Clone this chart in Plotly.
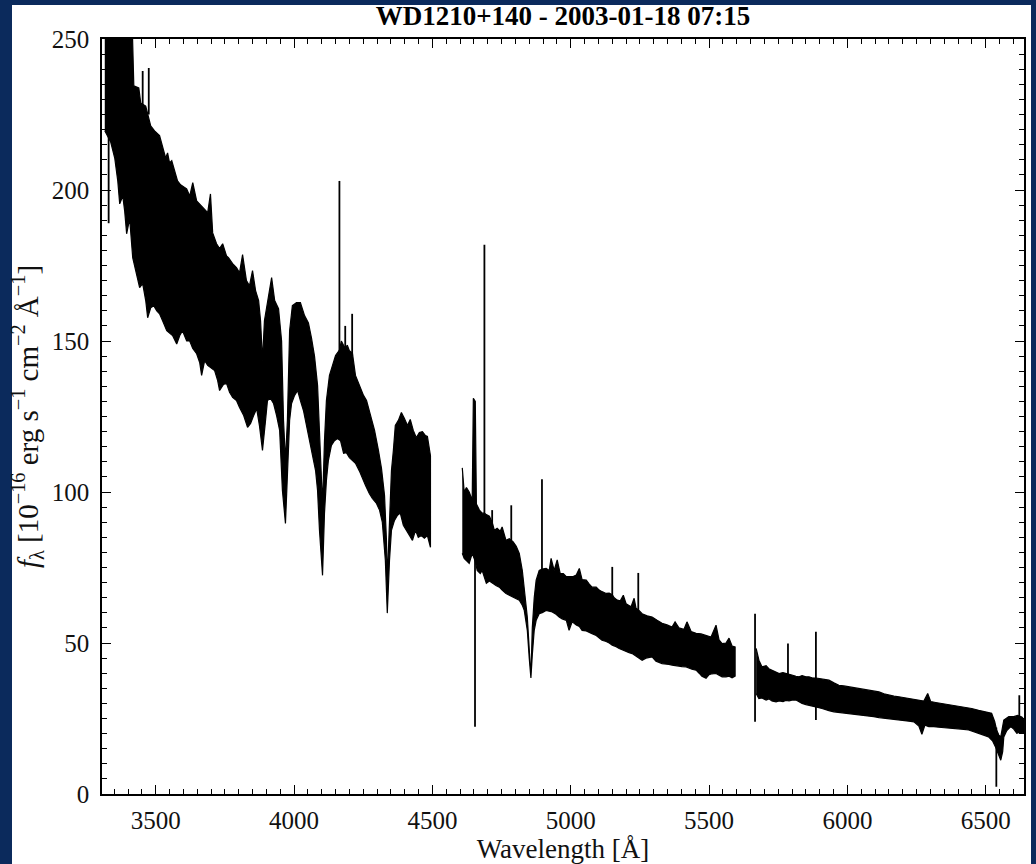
import plotly.graph_objects as go

# ---- Spectrum of WD1210+140, drawn as flux envelopes (upper / lower edge of the noisy trace)
# Blue arm, 3300-4500 A
blue_wl_hi = [3316, 3413, 3421, 3439, 3446, 3464, 3482, 3496, 3514, 3529,
              3536, 3543, 3550, 3558, 3569, 3579, 3590, 3601, 3612, 3623,
              3634, 3648, 3659, 3673, 3688, 3698, 3706, 3720, 3731, 3742,
              3756, 3763, 3778, 3792, 3803, 3814, 3828, 3839, 3850, 3861,
              3872, 3879, 3886, 3893, 3904, 3919, 3930, 3944, 3955, 3962,
              3969, 3976, 3984, 3994, 4009, 4023, 4038, 4052, 4063, 4074,
              4085, 4092, 4103, 4110, 4117, 4128, 4139, 4150, 4164, 4171,
              4182, 4193, 4200, 4211, 4222, 4236, 4251, 4262, 4276, 4291,
              4305, 4316, 4327, 4334, 4337, 4345, 4352, 4359, 4366, 4377,
              4388, 4399, 4410, 4420, 4431, 4442, 4453, 4464, 4475, 4482,
              4493]
blue_flux_hi = [280, 262, 234.5, 233.8, 228.8, 227.8, 221.2, 219.6, 218, 213,
                210.6, 212.3, 209, 209.7, 205.7, 203, 201.7, 201, 200.4, 198,
                202.4, 196.4, 195.4, 194, 192.5, 198.7, 185.8, 182.2, 180.6, 182.2,
                178.2, 177.6, 175.6, 174.3, 172.6, 178.6, 170, 168.3, 173.3, 166.7,
                163.4, 156.7, 143.5, 156.7, 163.4, 171, 163.4, 160.7, 150, 123.7,
                110.4, 123.7, 153.4, 161.7, 162.7, 162.7, 158.4, 156, 151, 145,
                135.3, 120.4, 95.6, 117, 130.3, 138.6, 141.9, 145.2, 147, 150,
                148, 148.5, 146.8, 146, 138.6, 135.3, 132, 130.3, 125.3, 120.4,
                113.8, 107.8, 98.9, 84, 70.8, 90.6, 107, 113.8, 122, 123.7,
                126.3, 124.3, 122, 124, 120.4, 118, 119.7, 120, 118.7, 118.4,
                112]
blue_wl_lo = [3316, 3337, 3352, 3363, 3370, 3381, 3388, 3395, 3406, 3417,
              3431, 3442, 3453, 3464, 3471, 3482, 3493, 3504, 3514, 3525,
              3540, 3550, 3561, 3576, 3587, 3597, 3612, 3623, 3634, 3648,
              3659, 3666, 3677, 3688, 3702, 3713, 3724, 3731, 3745, 3756,
              3767, 3778, 3792, 3803, 3818, 3832, 3843, 3854, 3865, 3875,
              3886, 3897, 3904, 3915, 3926, 3937, 3948, 3958, 3969, 3976,
              3984, 3991, 4002, 4013, 4023, 4034, 4045, 4056, 4067, 4078,
              4085, 4092, 4103, 4110, 4117, 4124, 4135, 4146, 4157, 4168,
              4179, 4189, 4200, 4211, 4222, 4236, 4247, 4258, 4272, 4283,
              4298, 4309, 4319, 4330, 4337, 4345, 4352, 4363, 4374, 4384,
              4395, 4406, 4417, 4428, 4439, 4449, 4460, 4471, 4482, 4493]
blue_flux_lo = [219.6, 216, 210.6, 203, 195.4, 198, 193, 185.5, 190.5, 177.6,
                172.3, 167.7, 169, 163.4, 157.7, 161, 161.7, 160, 159, 156.7,
                153.4, 152.8, 151.8, 149, 151.8, 153.4, 150, 150, 147.5, 145.8,
                142.9, 138.6, 143.5, 141.9, 140.9, 140.2, 136.9, 133.6, 135.6, 136,
                133, 131.3, 130.3, 128, 125.3, 121.4, 122.7, 125.3, 127.6, 122,
                113.8, 123.7, 130.3, 131, 129.3, 125.3, 120.4, 100.5, 89.6, 107,
                123.7, 129.3, 132, 133.6, 130.3, 127, 122, 117, 112, 107,
                100.5, 87.3, 72.4, 93, 103.8, 110.4, 115.4, 117, 117.7, 117,
                112.8, 113, 111.4, 110.4, 109.5, 107, 104.8, 102.2, 99.5, 97.9,
                96.2, 94, 90, 77.4, 59.9, 77.4, 87.3, 90.6, 92.3, 93,
                89, 87.3, 85.6, 84, 87.3, 85, 85.6, 84.7, 85.6, 81.7]

# Green arm, 4600-5600 A
green_wl_hi = [4608, 4615, 4623, 4633, 4641, 4644, 4648, 4655, 4659, 4670,
               4680, 4688, 4695, 4706, 4716, 4724, 4734, 4745, 4752, 4766,
               4778, 4785, 4792, 4803, 4814, 4825, 4832, 4843, 4850, 4856,
               4861, 4868, 4875, 4886, 4897, 4911, 4922, 4929, 4940, 4951,
               4962, 4973, 4984, 4994, 5009, 5020, 5031, 5041, 5056, 5067,
               5077, 5092, 5103, 5113, 5128, 5139, 5150, 5157, 5168, 5179,
               5190, 5200, 5211, 5218, 5229, 5236, 5244, 5251, 5258, 5276,
               5294, 5312, 5330, 5348, 5366, 5377, 5391, 5409, 5420, 5435,
               5453, 5471, 5489, 5507, 5525, 5536, 5547, 5561, 5572, 5583,
               5594]
green_flux_hi = [108, 100, 101.5, 100, 98, 98, 131, 130, 96, 94,
                 93, 93, 92.5, 92, 90, 87.3, 88, 87, 88.4, 84,
                 84.5, 84, 83.5, 82, 79.7, 74, 68.5, 58.6, 48, 38.4,
                 55, 65, 70.8, 74, 74.5, 74.7, 74, 78, 74, 77.5,
                 73, 73, 72, 71.9, 72, 72.5, 74.7, 71, 70.8, 69.5,
                 68.5, 68.5, 67.5, 67, 66.4, 66.5, 66, 65, 64.2, 64,
                 65.8, 63, 62.5, 62, 64.8, 61.5, 61, 60.5, 59.7, 59,
                 58.6, 57.5, 56.5, 56, 55.3, 57, 55, 54.5, 57, 53.8,
                 53.2, 53, 52.5, 52, 55.9, 51, 49.8, 50, 51.6, 49,
                 48.7]
green_wl_lo = [4608, 4615, 4623, 4633, 4644, 4655, 4662, 4673, 4680, 4695,
               4706, 4716, 4731, 4742, 4752, 4766, 4778, 4788, 4803, 4814,
               4825, 4832, 4843, 4850, 4856, 4861, 4868, 4875, 4886, 4897,
               4911, 4922, 4933, 4947, 4958, 4969, 4984, 4994, 5005, 5020,
               5031, 5041, 5056, 5067, 5077, 5092, 5103, 5113, 5128, 5139,
               5150, 5164, 5175, 5186, 5200, 5211, 5222, 5236, 5247, 5258,
               5272, 5283, 5294, 5308, 5319, 5330, 5344, 5355, 5366, 5381,
               5391, 5402, 5417, 5428, 5438, 5453, 5464, 5474, 5489, 5500,
               5510, 5525, 5536, 5547, 5561, 5572, 5583, 5594]
green_flux_lo = [79.7, 78, 77.4, 76.4, 79.7, 77, 74, 73, 74, 69.8,
                 70.5, 69.8, 69, 68.5, 67.5, 66.4, 66, 65.3, 64.7, 64.2,
                 62.5, 60.8, 54.2, 45, 38.4, 46, 54.2, 57.5, 59.7, 60,
                 60.8, 60.5, 60.3, 59.5, 58.6, 58, 57.5, 54.2, 57, 56,
                 55.5, 54.2, 54, 53.5, 53.1, 52.5, 51.8, 50.9, 50.5, 50,
                 49.3, 48.8, 48.2, 47.6, 47.2, 46.8, 46.5, 45.8, 45, 44.3,
                 45, 45.2, 45.4, 44, 43.6, 43.2, 43, 42.9, 42.7, 42.5,
                 42.3, 42.2, 42.1, 41.6, 41.3, 41, 40, 39, 38.3, 39.5,
                 39.8, 39.9, 39.3, 38.8, 38.8, 39, 38.5, 39]

# Red arm, 5670-6640 A
red_wl_hi = [5670, 5680, 5691, 5706, 5716, 5727, 5742, 5753, 5767, 5777,
             5789, 5799, 5814, 5825, 5836, 5850, 5861, 5872, 5887, 5897,
             5908, 5922, 5933, 5951, 5969, 5987, 6005, 6023, 6041, 6059,
             6077, 6095, 6114, 6132, 6150, 6168, 6186, 6204, 6222, 6240,
             6258, 6276, 6290, 6301, 6319, 6341, 6359, 6377, 6395, 6413,
             6431, 6449, 6474, 6500, 6521, 6532, 6539, 6547, 6554, 6565,
             6583, 6601, 6615, 6630, 6640]
red_flux_hi = [48.2, 44.3, 42.1, 42.5, 41.5, 41, 40.5, 39.9, 40.2, 40,
               39.6, 39.4, 39, 38.8, 39.2, 38.8, 38.8, 38.5, 38.4, 38.2,
               38, 37.8, 37.7, 36.8, 36, 35.8, 35.5, 35.2, 35, 34.7,
               34.4, 34.2, 33.8, 33.2, 32.7, 32.4, 32.2, 31.9, 31.6, 31.3,
               31.1, 30.8, 33.3, 30.6, 30.3, 30, 29.7, 29.4, 29.1, 28.9,
               28.6, 28.3, 27.7, 27.2, 26.7, 24, 21.2, 19.5, 18.9, 24.5,
               25.6, 25.6, 26, 25.5, 24.5]
red_wl_lo = [5670, 5680, 5691, 5706, 5716, 5727, 5742, 5753, 5767, 5777,
             5789, 5799, 5814, 5825, 5836, 5850, 5861, 5872, 5887, 5897,
             5908, 5922, 5933, 5951, 5969, 5987, 6005, 6023, 6041, 6059,
             6077, 6095, 6114, 6132, 6150, 6168, 6186, 6204, 6222, 6240,
             6258, 6269, 6280, 6294, 6312, 6330, 6348, 6366, 6384, 6402,
             6420, 6438, 6456, 6474, 6492, 6510, 6525, 6535, 6547, 6554,
             6561, 6565, 6576, 6590, 6601, 6612, 6623, 6640]
red_flux_lo = [33.3, 31.6, 31.8, 31.1, 31.5, 30.8, 30.5, 30.8, 30.6, 31,
               30.8, 31.1, 31.1, 30.5, 30, 29.6, 29.4, 29, 28.8, 28.6,
               28.3, 28, 27.6, 27.2, 26.9, 26.7, 26.7, 26.5, 26.3, 26.1,
               25.8, 25.6, 25.3, 25, 24.7, 24.5, 24.5, 24.3, 24.1, 23.9,
               22.5, 19.8, 22.8, 22.3, 22.3, 22.1, 22, 21.7, 21.6, 21.5,
               21.4, 21.2, 20.8, 20.1, 19.5, 18.9, 17.5, 15.6, 13, 11.2,
               14, 18.9, 21, 22.3, 21.5, 20.1, 20.5, 20.1]

# Narrow single-pixel features (cosmics, emission lines, bad pixels)
spike_wl = [3330, 3453, 3475, 4164, 4185, 4210, 4654, 4688, 4716, 4785,
            4896, 5150, 5244, 5666, 5785, 5886, 6538, 6621]
spike_lo = [189, 225, 225, 140, 145, 145, 22.3, 90, 88, 83,
            70, 64, 59, 23.9, 38, 24.5, 2.4, 24]
spike_hi = [219, 239.4, 240.4, 203, 155, 159, 80, 181.9, 94, 95.6,
            104.2, 75.2, 73.2, 59.7, 49.8, 53.7, 22, 32.7]

x_ticks = [3500, 4000, 4500, 5000, 5500, 6000, 6500]
y_ticks = [0, 50, 100, 150, 200, 250]

SERIF = "Liberation Serif, Times New Roman, serif"

fig = go.Figure()

arms = [
    (blue_wl_hi, blue_flux_hi, blue_wl_lo, blue_flux_lo),
    (green_wl_hi, green_flux_hi, green_wl_lo, green_flux_lo),
    (red_wl_hi, red_flux_hi, red_wl_lo, red_flux_lo),
]
for wl_hi, f_hi, wl_lo, f_lo in arms:
    fig.add_trace(go.Scatter(
        x=list(wl_hi) + list(wl_lo)[::-1],
        y=list(f_hi) + list(f_lo)[::-1],
        mode="lines", fill="toself", fillcolor="black",
        line=dict(color="black", width=1.2),
        hoverinfo="skip",
    ))

sx, sy = [], []
for w, lo, hi in zip(spike_wl, spike_lo, spike_hi):
    sx += [w, w, None]
    sy += [lo, hi, None]
fig.add_trace(go.Scatter(x=sx, y=sy, mode="lines",
                         line=dict(color="black", width=1.8), hoverinfo="skip"))

axis_common = dict(
    showline=True, linecolor="black", linewidth=1.5, mirror="allticks",
    ticks="inside", ticklen=9, tickwidth=1.3, tickcolor="black",
    showgrid=False, zeroline=False, automargin=False,
    tickfont=dict(family=SERIF, size=25, color="#111"),
)

fig.update_xaxes(
    range=[3306, 6638], tickvals=x_ticks,
    minor=dict(dtick=50, ticks="inside", ticklen=5, tickwidth=1.1, tickcolor="black"),
    title=dict(text="Wavelength [Å]", font=dict(family=SERIF, size=27, color="#111"), standoff=4),
    ticklabelstandoff=3,
    **axis_common,
)
fig.update_yaxes(
    range=[0, 250], tickvals=y_ticks,
    minor=dict(dtick=5, ticks="inside", ticklen=5, tickwidth=1.1, tickcolor="black"),
    title=dict(text="<i>f</i><sub>λ</sub> [10<sup>−16</sup> erg s<sup>−1</sup> cm<sup>−2</sup> Å<sup>−1</sup>]",
               font=dict(family=SERIF, size=29, color="#111"), standoff=5),
    ticklabelstandoff=6,
    **axis_common,
)

W, H = 1036, 864
L, R, T, B = 102, 12, 39, 70
pw, ph = W - L - R, H - T - B
plot_bottom = H - B


def paper_x(px):
    return (px - L) / pw


def paper_y(py):
    return (plot_bottom - py) / ph


fig.update_layout(
    width=W, height=H,
    margin=dict(l=L, r=R, t=T, b=B),
    paper_bgcolor="#0b2a5c", plot_bgcolor="white",
    showlegend=False,
    title=dict(text="<b>WD1210+140 - 2003-01-18 07:15</b>",
               font=dict(family=SERIF, size=27, color="black"),
               x=paper_x(563), xref="paper", xanchor="center",
               y=1 - 16 / H, yref="container", yanchor="middle"),
    shapes=[dict(type="rect", xref="paper", yref="paper", layer="below",
                 x0=paper_x(12), x1=paper_x(1031),
                 y0=paper_y(H + 10), y1=paper_y(5),
                 fillcolor="white", line=dict(width=0))],
)

fig.write_html("out.html")
